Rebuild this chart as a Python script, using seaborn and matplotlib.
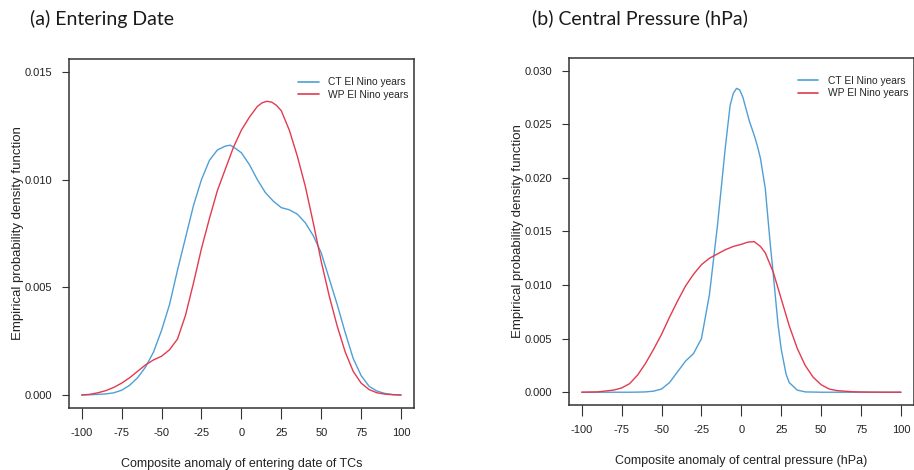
import matplotlib
matplotlib.use("Agg")
import matplotlib.pyplot as plt
import seaborn as sns
import pandas as pd

# ---------------- data ----------------
series_labels = ["CT El Nino years", "WP El Nino years"]
x_ticks = [-100, -75, -50, -25, 0, 25, 50, 75, 100]
yticks_a = [0.000, 0.005, 0.010, 0.015]
yticks_b = [0.000, 0.005, 0.010, 0.015, 0.020, 0.025, 0.030]

# (a) entering date
a_ct_x = [-100, -95, -90, -85, -80, -75, -70, -65, -60, -55, -50, -45, -40, -35, -30, -25, -20, -15, -10, -7, -5,
          0, 5, 10, 15, 20, 25, 30, 35, 40, 45, 50, 55, 60, 65, 70, 75, 80, 85, 90, 95, 100]
a_ct_y = [0.0, 0.00001, 0.00003, 0.00005, 0.0001, 0.00022, 0.00045, 0.0008, 0.0013, 0.0020, 0.0030, 0.0042,
          0.0058, 0.0073, 0.0088, 0.0100, 0.0109, 0.01138, 0.01156, 0.0116, 0.01152,
          0.01125, 0.0107, 0.0100, 0.0094, 0.0090, 0.0087, 0.0086, 0.0084, 0.0080, 0.0074, 0.0066, 0.0054,
          0.0042, 0.0029, 0.0017, 0.0009, 0.0004, 0.00018, 0.00007, 0.00002, 0.0]
a_wp_x = [-100, -95, -90, -85, -80, -75, -70, -65, -60, -55, -50, -45, -40, -35, -30, -25, -20, -15, -10, -5,
          0, 5, 10, 13, 16, 19, 22, 25, 30, 35, 40, 45, 50, 55, 60, 65, 70, 75, 80, 85, 90, 95, 100]
a_wp_y = [0.0, 0.00003, 0.0001, 0.0002, 0.00035, 0.00055, 0.0008, 0.0011, 0.0014, 0.00163, 0.0018, 0.0021,
          0.0026, 0.0037, 0.0052, 0.0068, 0.0082, 0.0095, 0.0105, 0.0115,
          0.0123, 0.0129, 0.0134, 0.01357, 0.01364, 0.0136, 0.01345, 0.0132, 0.0123, 0.0111, 0.0097, 0.0080,
          0.0062, 0.0046, 0.0032, 0.0020, 0.0011, 0.00055, 0.00025, 0.0001, 0.00004, 0.00001, 0.0]

# (b) central pressure
b_ct_x = [-100, -90, -80, -70, -65, -60, -55, -50, -45, -40, -35, -30, -25, -20, -15, -10, -7, -5, -3, -1,
          1, 3, 5, 8, 10, 12, 15, 18, 20, 23, 25, 28, 30, 35, 40, 50, 60, 80, 100]
b_ct_y = [0.0, 0.0, 0.0, 0.0, 0.00001, 0.00003, 0.0001, 0.0003, 0.0009, 0.0019, 0.0029, 0.0036, 0.0050,
          0.0091, 0.0155, 0.0229, 0.0268, 0.0279, 0.02835, 0.0282,
          0.0275, 0.0264, 0.0253, 0.0240, 0.0230, 0.0218, 0.0190, 0.0140, 0.0110, 0.0063, 0.0040, 0.0017,
          0.0009, 0.0002, 0.00003, 0.0, 0.0, 0.0, 0.0]
b_wp_x = [-100, -90, -80, -75, -70, -65, -60, -55, -50, -45, -40, -35, -30, -25, -20, -15, -10, -5, 0, 4, 8,
          12, 15, 20, 25, 30, 35, 40, 45, 50, 55, 60, 70, 80, 90, 100]
b_wp_y = [0.0, 0.00003, 0.0002, 0.0004, 0.0008, 0.0016, 0.0027, 0.0040, 0.0054, 0.0070, 0.0085, 0.0099,
          0.0110, 0.0119, 0.0125, 0.0129, 0.0133, 0.0136, 0.0138, 0.0140, 0.01405,
          0.0136, 0.0130, 0.0112, 0.0087, 0.0062, 0.0041, 0.0025, 0.0014, 0.0007, 0.0003, 0.00015, 0.00004,
          0.00001, 0.0, 0.0]

titles = ["(a) Entering Date", "(b) Central Pressure (hPa)"]
xlabels = ["Composite anomaly of entering date of TCs", "Composite anomaly of central pressure (hPa)"]
ylabel = "Empirical probability density function"

# ---------------- style ----------------
sns.set_style("white")
plt.rcParams["font.family"] = ["Liberation Sans", "DejaVu Sans"]
colors = {"CT El Nino years": "#4f9fd6", "WP El Nino years": "#e33a4e"}

fig = plt.figure(figsize=(9.14, 4.70), dpi=100)
ax_a = fig.add_axes([0.0754, 0.1319, 0.3774, 0.7426])
ax_b = fig.add_axes([0.6225, 0.1381, 0.3772, 0.7389])


def frame(x, y, lab):
    return pd.DataFrame({"x": x, "y": y, "series": lab})


panels = [
    (ax_a, [frame(a_ct_x, a_ct_y, series_labels[0]), frame(a_wp_x, a_wp_y, series_labels[1])],
     yticks_a, (-0.000604, 0.015604), xlabels[0]),
    (ax_b, [frame(b_ct_x, b_ct_y, series_labels[0]), frame(b_wp_x, b_wp_y, series_labels[1])],
     yticks_b, (-0.0012, 0.0312), xlabels[1]),
]

for ax, frames, yt, ylim, xl in panels:
    df = pd.concat(frames, ignore_index=True)
    sns.lineplot(data=df, x="x", y="y", hue="series", palette=colors, estimator=None,
                 sort=False, linewidth=1.0, ax=ax, legend=False)
    ax.set_xlim(-108, 108)
    ax.set_ylim(*ylim)
    ax.set_xticks(x_ticks)
    ax.set_xticklabels([str(v) for v in x_ticks])
    ax.set_yticks(yt)
    ax.set_yticklabels([f"{v:.3f}" for v in yt])
    ax.tick_params(axis="x", direction="out", length=8, width=0.8, color="#333333",
                   labelsize=8, pad=6.5, bottom=True, labelcolor="#222222")
    ax.tick_params(axis="y", direction="out", length=5, width=0.8, color="#333333",
                   labelsize=8, pad=7, left=True, labelcolor="#222222")
    for s in ax.spines.values():
        s.set_visible(True)
        s.set_color("#333333")
        s.set_linewidth(1.1)
    ax.set_xlabel(xl, fontsize=9, labelpad=14, color="#222222")
    ax.set_ylabel(ylabel, fontsize=9.5, labelpad=0.5, color="#222222")
    handles = [plt.Line2D([], [], color=colors[l], lw=1.2) for l in series_labels]
    ax.legend(handles, series_labels, loc="upper left", bbox_to_anchor=(0.664, 0.948),
              frameon=False, fontsize=7.4, handlelength=2.0, handletextpad=0.9,
              labelspacing=0.25, borderpad=0, borderaxespad=0)

for xpos, t in zip([30 / 914, 532 / 914], titles):
    fig.text(xpos, 1 - 18.5 / 470, t, fontsize=14, va="center", ha="left",
             family=["Lato", "DejaVu Sans"], color="#1a1a1a")

fig.savefig("out.png", dpi=100)
